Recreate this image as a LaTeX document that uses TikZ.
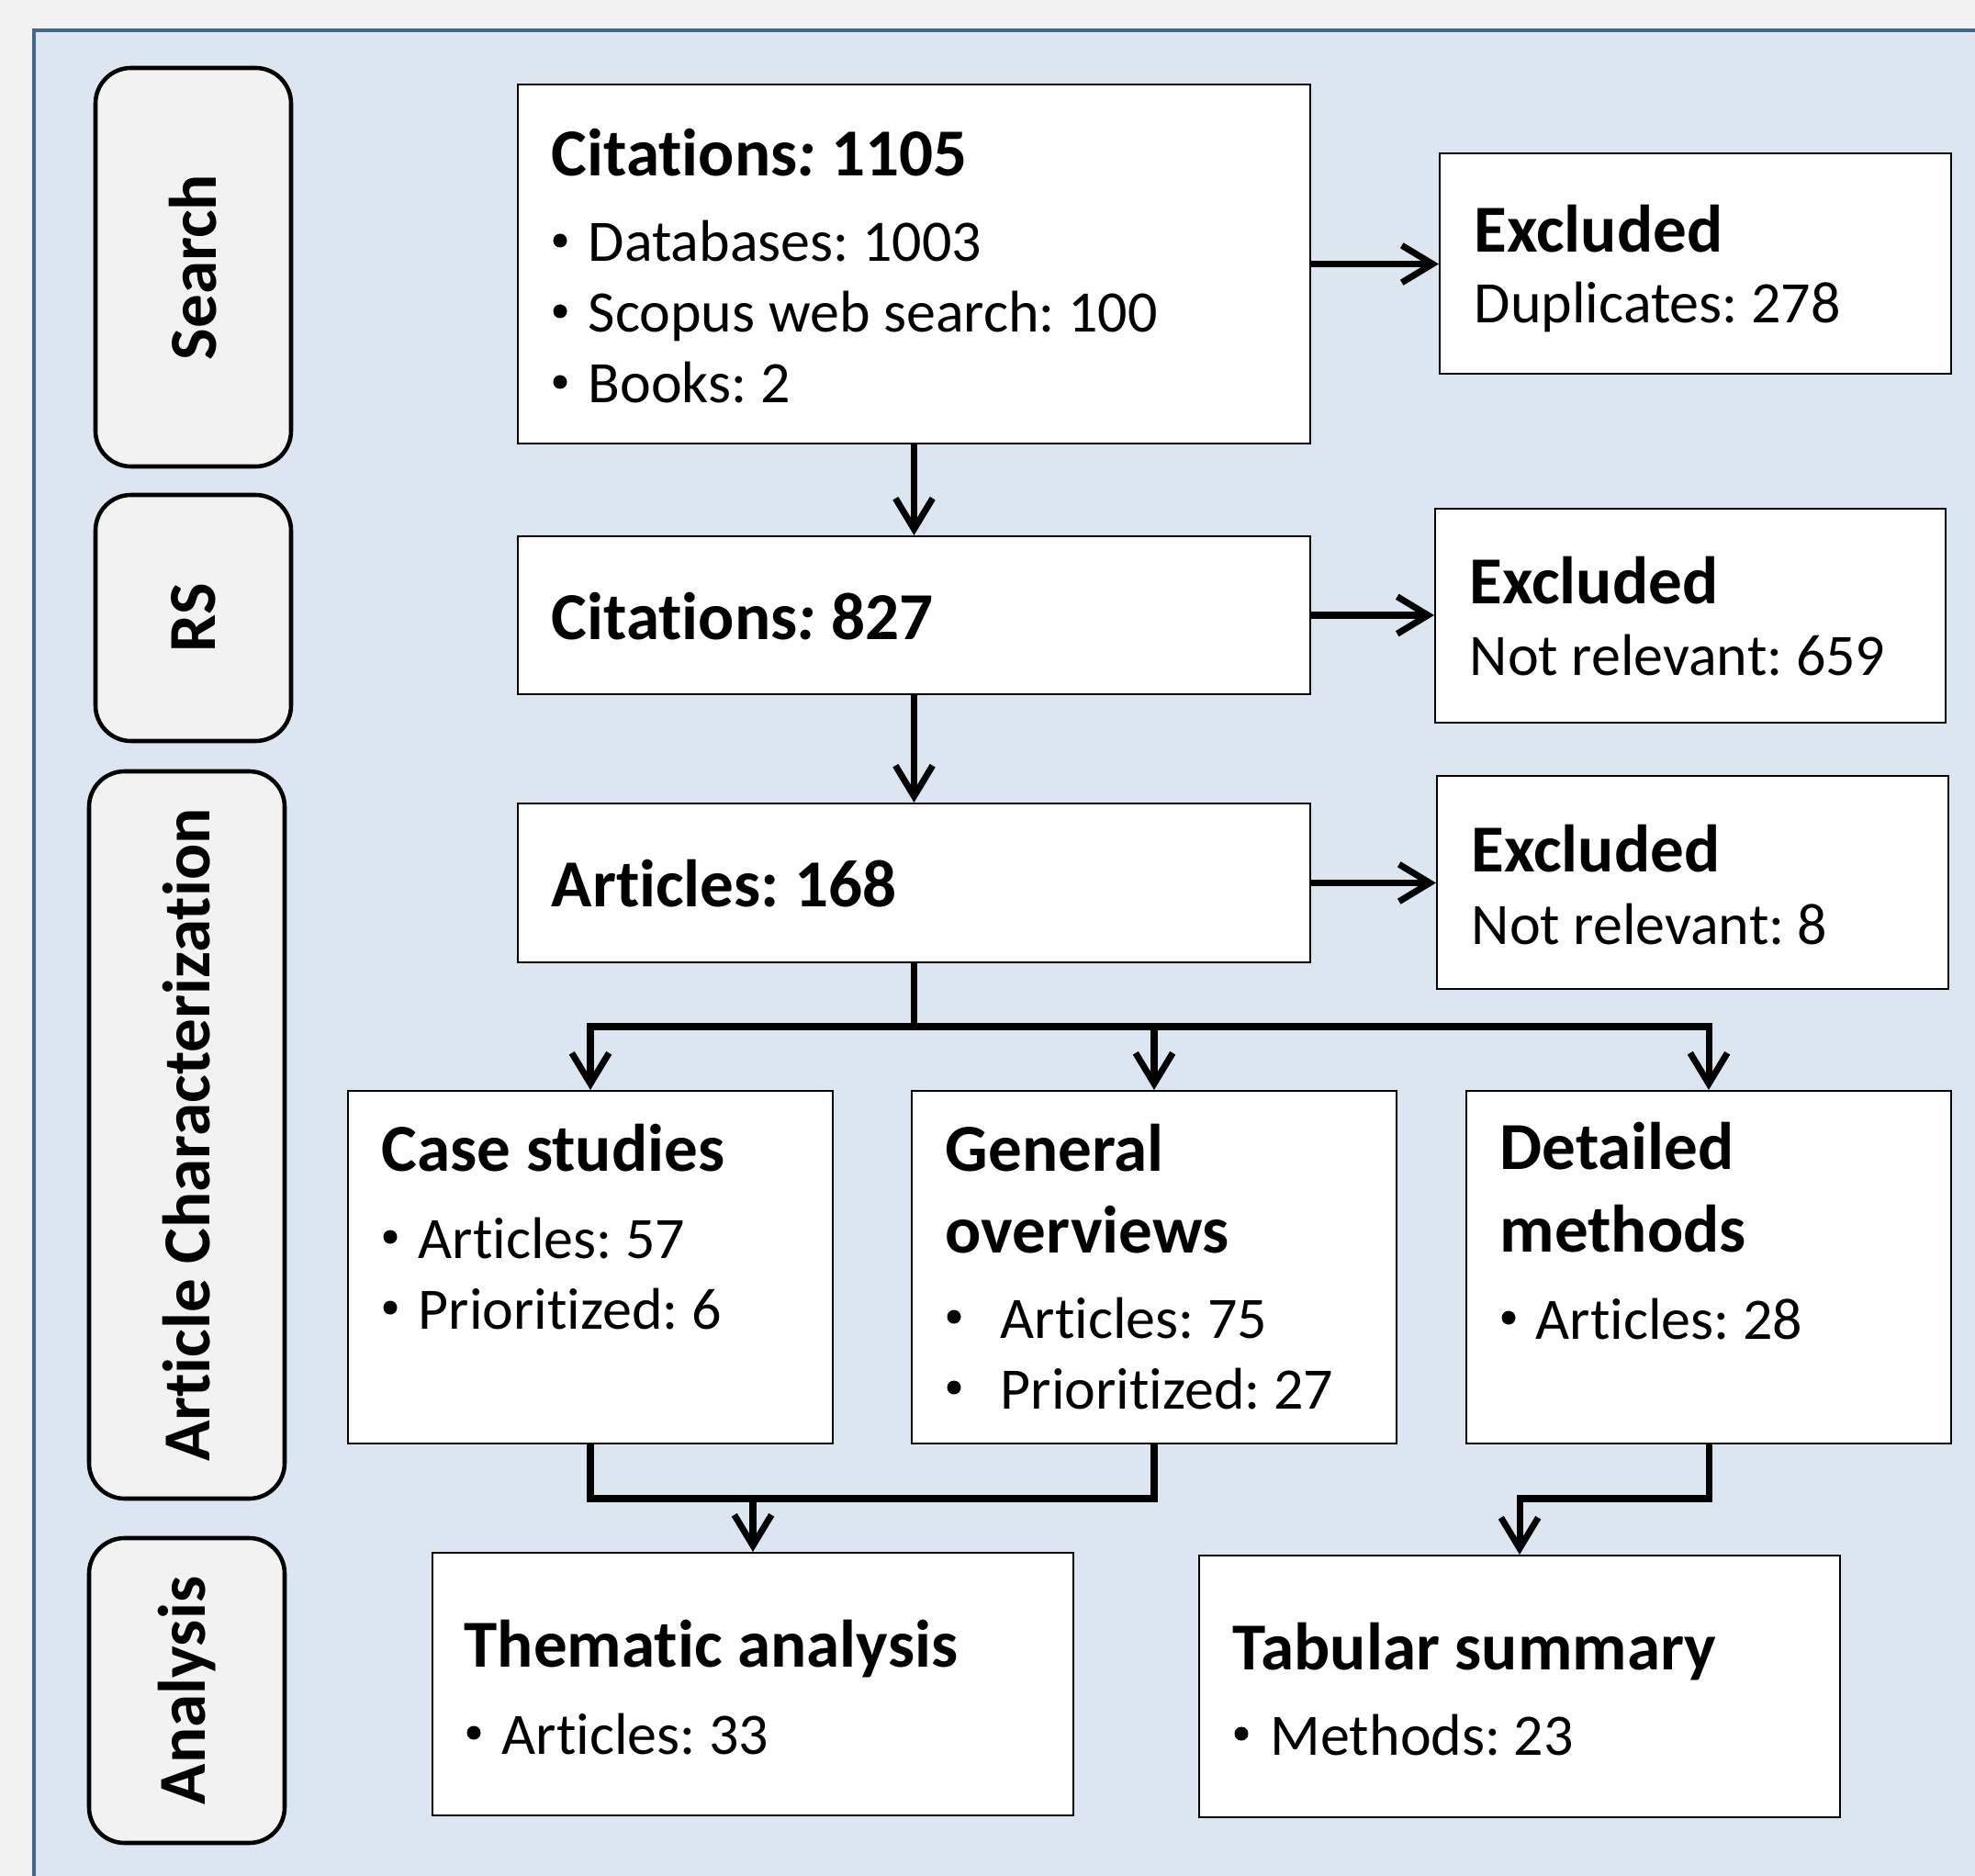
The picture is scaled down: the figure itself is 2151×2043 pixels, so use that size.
\documentclass[tikz,border=0pt]{standalone}
\usepackage{fontspec}
\setmainfont{Carlito}[Ligatures=NoCommon]
\usetikzlibrary{fit,arrows.meta}
\definecolor{outerbg}{HTML}{F2F2F2}
\definecolor{panelbg}{HTML}{DCE6F1}
\definecolor{panelline}{HTML}{41668F}
\definecolor{phasebg}{HTML}{F2F2F2}
\frenchspacing
\begin{document}
\begin{tikzpicture}[x=0.01cm,y=-0.01cm,
  box/.style={draw=black, line width=0.6pt, fill=white, inner sep=0pt},
  phase/.style={draw=black, line width=1.3pt, fill=phasebg, rounded corners=11pt, inner sep=0pt},
  phasetxt/.style={rotate=90, inner sep=0pt, font=\fontsize{20.8}{25}\selectfont\bfseries},
  ttl/.style={anchor=base west, inner sep=0pt, font=\fontsize{20.8}{25}\selectfont\bfseries},
  txt/.style={anchor=base west, inner sep=0pt, font=\fontsize{18.2}{22}\selectfont},
  dot/.style={circle, fill=black, inner sep=0pt, minimum size=0.15cm},
  conn/.style={line width=2pt},
  arr/.style={conn, -{Straight Barb[length=9.5pt,width=11.5pt]}},
]
\useasboundingbox (0,0) rectangle (2151,2043);
\fill[outerbg] (0,0) rectangle (2151,2043);
\fill[panelbg] (37,33) rectangle (2151,2043);
\draw[panelline, line width=1.4pt] (37,2043) -- (37,33) -- (2151,33);

% phase boxes
\node[phase, fit={(104,74) (317,508)}] (ps) {};
\node[phase, fit={(104,539) (317,807)}] (prs) {};
\node[phase, fit={(97,840) (310,1632)}] (pac) {};
\node[phase, fit={(97,1675) (310,2007)}] (pan) {};
\node[phasetxt] (pst) at (ps.center) {Search};
\node[phasetxt] (prst) at (prs.center) {RS};
\node[phasetxt] (pact) at (pac.center) {Article Characterization};
\node[phasetxt] (pant) at (pan.center) {Analysis};

% main boxes
\node[box, fit={(564,92) (1427,483)}] (c1) {};
\node[box, fit={(1568,167) (2125,407)}] (e1) {};
\node[box, fit={(564,584) (1427,756)}] (c2) {};
\node[box, fit={(1563,554) (2119,787)}] (e2) {};
\node[box, fit={(564,875) (1427,1048)}] (c3) {};
\node[box, fit={(1565,845) (2122,1077)}] (e3) {};
\node[box, fit={(379,1188) (907,1572)}] (cs) {};
\node[box, fit={(993,1188) (1521,1572)}] (go) {};
\node[box, fit={(1597,1188) (2125,1572)}] (dm) {};
\node[box, fit={(471,1691) (1169,1977)}] (ta) {};
\node[box, fit={(1306,1694) (2004,1979)}] (ts) {};

% texts
\node[ttl] (t1) at (600,192) {Citations\textit{:} 1105};
\node[dot] (b1a) at (610,262) {};
\node[txt] (l1a) at (640,285) {Databases: 1003};
\node[dot] (b1b) at (610,339) {};
\node[txt] (l1b) at (640,362) {Scopus web search: 100};
\node[dot] (b1c) at (610,416) {};
\node[txt] (l1c) at (640,439) {Books: 2};

\node[ttl] (te1) at (1605,275) {Excluded};
\node[txt] (le1) at (1605,352) {Duplicates: 278};

\node[ttl] (t2) at (600,697) {Citations\textit{:} 827};
\node[ttl] (te2) at (1600,658) {Excluded};
\node[txt] (le2) at (1600,736) {Not relevant: 659};

\node[ttl] (t3) at (600,988) {Articles: 168};
\node[ttl] (te3) at (1602,949) {Excluded};
\node[txt] (le3) at (1602,1028) {Not relevant: 8};

\node[ttl] (tcs) at (415,1275) {Case studies};
\node[dot] (bcs1) at (425,1347) {};
\node[txt] (lcs1) at (455,1370) {Articles: 57};
\node[dot] (bcs2) at (425,1424) {};
\node[txt] (lcs2) at (455,1447) {Prioritized: 6};

\node[ttl] (tgo1) at (1029,1275) {General};
\node[ttl] (tgo2) at (1029,1364) {overviews};
\node[dot] (bgo1) at (1039,1434) {};
\node[txt] (lgo1) at (1089,1457) {Articles: 75};
\node[dot] (bgo2) at (1039,1511) {};
\node[txt] (lgo2) at (1089,1534) {Prioritized: 27};

\node[ttl] (tdm1) at (1633,1273) {Detailed};
\node[ttl] (tdm2) at (1633,1363) {methods};
\node[dot] (bdm1) at (1643,1435) {};
\node[txt] (ldm1) at (1672,1458) {Articles: 28};

\node[ttl] (tta) at (505,1815) {Thematic analysis};
\node[dot] (bta) at (516,1887) {};
\node[txt] (lta) at (546,1910) {Articles: 33};

\node[ttl] (tts) at (1342,1818) {Tabular summary};
\node[dot] (bts) at (1352,1888) {};
\node[txt] (lts) at (1383,1911) {Methods: 23};

% connectors
\coordinate (br) at (996,1118);
\coordinate (mg) at (820,1632);
\draw[arr] (c1.east) -- (c1.east -| e1.west);
\draw[arr] (c2.east) -- (c2.east -| e2.west);
\draw[arr] (c3.east) -- (c3.east -| e3.west);
\draw[arr] (c1.south) -- (c2.north);
\draw[arr] (c2.south) -- (c3.north);
\draw[arr] (c3.south) -- (c3.south |- br) -| (cs.north);
\draw[arr] (c3.south |- br) -| (dm.north);
\draw[arr] (go.north |- br) -- (go.north);
\draw[conn] (cs.south) -- (cs.south |- mg) -| (go.south);
\draw[arr] (ta.north |- mg) -- (ta.north);
\draw[arr] (dm.south) |- (ts.north |- mg) -- (ts.north);
\end{tikzpicture}
\end{document}
